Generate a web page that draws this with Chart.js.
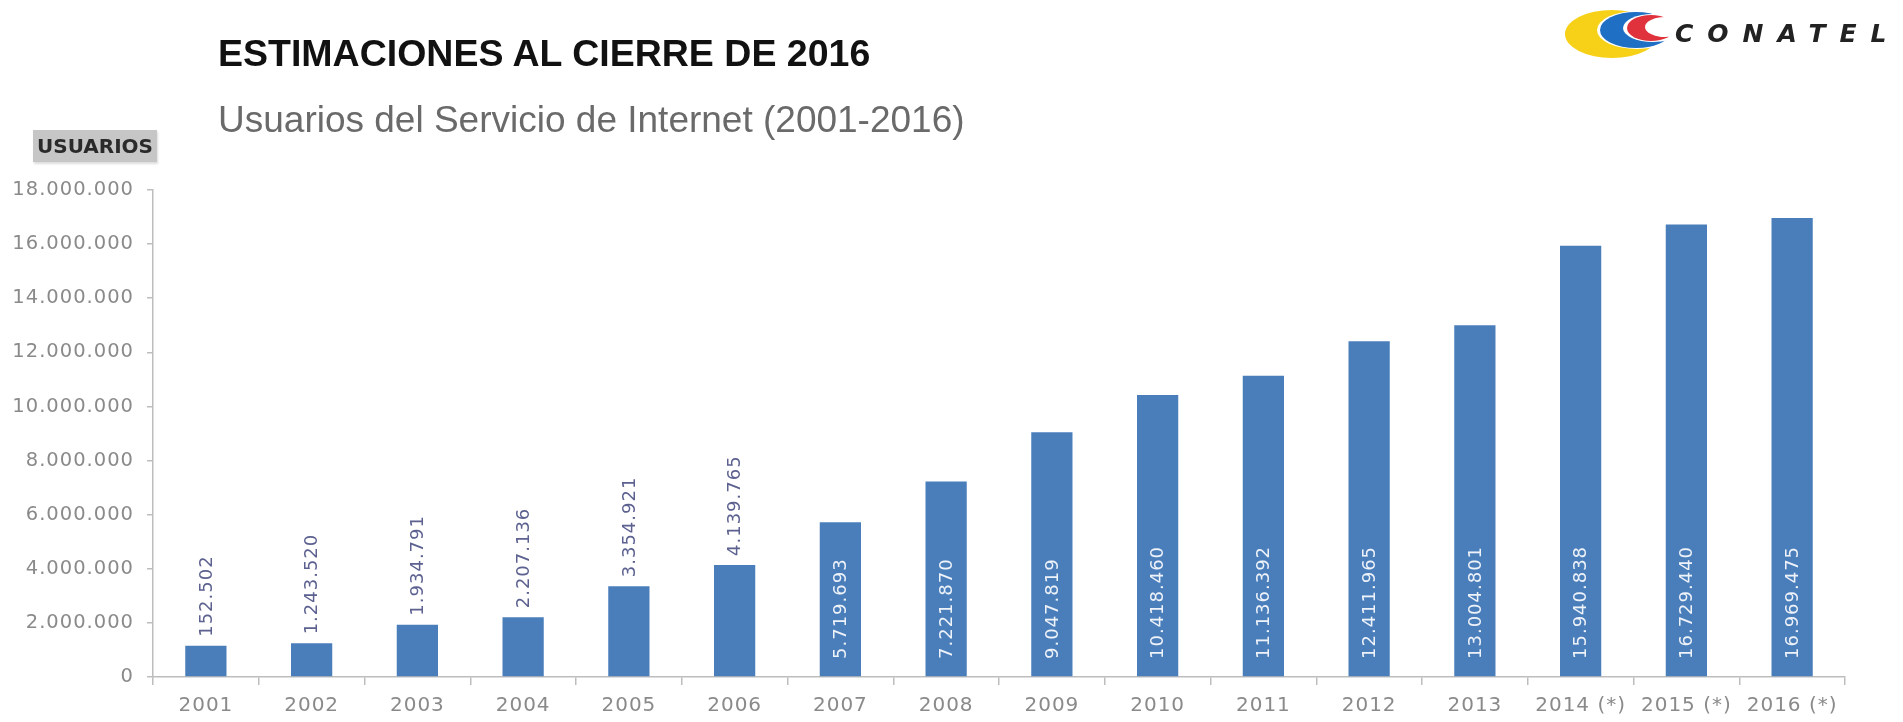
<!DOCTYPE html>
<html>
<head>
<meta charset="utf-8">
<script src="https://cdn.jsdelivr.net/npm/chart.js@4.4.0/dist/chart.umd.min.js"></script>
<style>
  html, body { margin: 0; padding: 0; background: #fff; }
  #wrap { position: relative; width: 1903px; height: 722px; overflow: hidden; }
  #grafico { position: absolute; left: 0; top: 0; }
  .titulo { position: absolute; left: 218px; top: 35px; font: bold 37.5px "Liberation Sans", Arial, sans-serif; color: #111; line-height: 37px; white-space: nowrap; }
  .subtitulo { position: absolute; left: 218px; top: 101px; font: 37px "Liberation Sans", Arial, sans-serif; color: #6a6a6a; line-height: 37px; white-space: nowrap; }
  .usuarios { position: absolute; left: 33px; top: 130px; width: 124px; height: 32px; background: #c6c6c6; box-shadow: 1px 2px 2px #ddd;
    font: bold 20px "DejaVu Sans", sans-serif; color: #2a2a2a; line-height: 32px; text-align: center; }
  .conatel { position: absolute; left: 1675px; top: 19px; font: italic bold 25px "DejaVu Sans", sans-serif; color: #222; letter-spacing: 14px; white-space: nowrap; }
  #logo { position: absolute; left: 0; top: 0; }
</style>
</head>
<body>
<div id="wrap">
  <canvas id="grafico" width="1903" height="722"></canvas>
  <div class="titulo">ESTIMACIONES AL CIERRE DE 2016</div>
  <div class="subtitulo">Usuarios del Servicio de Internet (2001-2016)</div>
  <div class="usuarios">USUARIOS</div>
  <svg id="logo" width="1903" height="80">
    <ellipse cx="1612" cy="34" rx="47" ry="24" fill="#f7d117"/>
    <ellipse cx="1637" cy="30" rx="40" ry="19" fill="#fff"/>
    <ellipse cx="1636" cy="30" rx="36" ry="18" fill="#1f6fc4"/>
    <ellipse cx="1653" cy="28" rx="30" ry="14" fill="#fff"/>
    <ellipse cx="1651" cy="28" rx="24" ry="13" fill="#e0323c"/>
    <ellipse cx="1665" cy="27" rx="20" ry="10" fill="#fff"/>
  </svg>
  <div class="conatel">CONATEL</div>
</div>
<script>
// datos
const anios = ['2001','2002','2003','2004','2005','2006','2007','2008','2009','2010','2011','2012','2013','2014 (*)','2015 (*)','2016 (*)']
const usuarios = [1152502, 1243520, 1934791, 2207136, 3354921, 4139765, 5719693, 7221870, 9047819, 10418460, 11136392, 12411965, 13004801, 15940838, 16729440, 16969475]
const etiquetas = ['152.502','1.243.520','1.934.791','2.207.136','3.354.921','4.139.765','5.719.693','7.221.870','9.047.819','10.418.460','11.136.392','12.411.965','13.004.801','15.940.838','16.729.440','16.969.475']
const ticksY = [0, 2000000, 4000000, 6000000, 8000000, 10000000, 12000000, 14000000, 16000000, 18000000]

function puntos(v){
    return String(v).replace(/\B(?=(\d{3})+(?!\d))/g, '.')
}

// texto un poco espaciado, como en el original
const espaciado = {
    id: 'espaciado',
    beforeDraw(chart){
        chart.ctx.letterSpacing = '1px'
    }
}

// etiquetas verticales sobre / dentro de las barras
const etiquetasBarras = {
    id: 'etiquetasBarras',
    afterDatasetsDraw(chart){
        const ctx = chart.ctx
        const meta = chart.getDatasetMeta(0)
        const base = chart.scales.y.getPixelForValue(0)
        ctx.save()
        ctx.font = '18px "DejaVu Sans", sans-serif'
        ctx.textAlign = 'left'
        ctx.textBaseline = 'middle'
        meta.data.forEach((bar, i) => {
            let y
            if (i < 6) {
                ctx.fillStyle = '#5c6190'
                y = bar.y - 9
            } else {
                ctx.fillStyle = '#eef2f9'
                y = base - 18
            }
            ctx.save()
            ctx.translate(bar.x, y)
            ctx.rotate(-Math.PI / 2)
            ctx.fillText(etiquetas[i], 0, 1)
            ctx.restore()
        })
        ctx.restore()
    }
}

new Chart(document.getElementById('grafico'), {
    type: 'bar',
    data: {
        labels: anios,
        datasets: [{
            data: usuarios,
            backgroundColor: '#4a7ebb',
            barPercentage: 0.39,
            categoryPercentage: 1
        }]
    },
    options: {
        responsive: false,
        animation: false,
        layout: { padding: { top: 190, right: 58, left: 0, bottom: 0 } },
        plugins: {
            legend: { display: false },
            tooltip: { enabled: false }
        },
        scales: {
            x: {
                grid: { display: true, drawOnChartArea: false, offset: true, tickLength: 8, color: '#bdbdbd', lineWidth: 1.5 },
                border: { color: '#bdbdbd', width: 1.5 },
                ticks: { color: '#8a8a8a', font: { family: '"DejaVu Sans", sans-serif', size: 20 }, padding: 9, maxRotation: 0 },
                afterFit: scale => { scale.height = 45 }
            },
            y: {
                min: 0,
                max: 18000000,
                afterBuildTicks: scale => { scale.ticks = ticksY.map(v => ({ value: v })) },
                grid: { display: true, drawOnChartArea: false, tickLength: 6, color: '#bdbdbd', lineWidth: 1.5 },
                border: { color: '#bdbdbd', width: 1.5 },
                ticks: { color: '#8a8a8a', font: { family: '"DejaVu Sans", sans-serif', size: 19.5 }, padding: 13, callback: v => puntos(v) },
                afterFit: scale => { scale.width = 153 }
            }
        }
    },
    plugins: [espaciado, etiquetasBarras]
})
</script>
</body>
</html>
